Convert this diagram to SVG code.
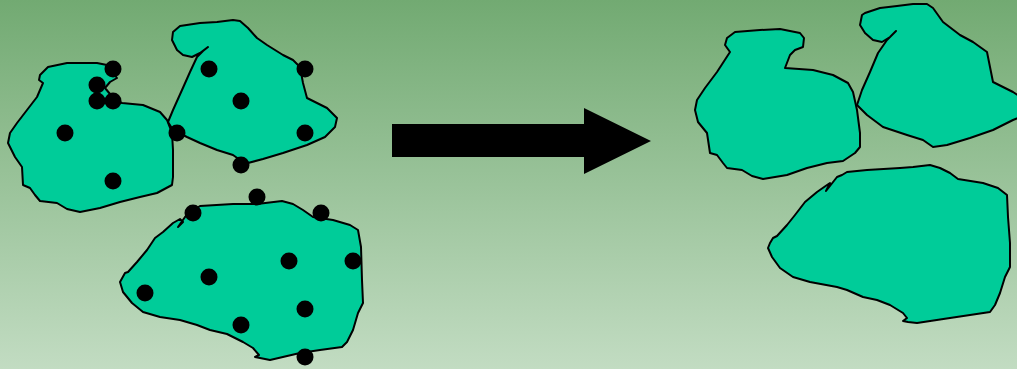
<svg xmlns="http://www.w3.org/2000/svg" width="1017" height="369" viewBox="0 0 1017 369">
<defs>
<linearGradient id="bg" x1="0" y1="0" x2="0" y2="1">
<stop offset="0" stop-color="#72aa72"/>
<stop offset="1" stop-color="#c2dcc2"/>
</linearGradient>
<style>
.blob{fill:#00cc99;stroke:#000;stroke-width:2;stroke-linejoin:round;stroke-linecap:round}
.dot{fill:#000}
</style>
</defs>
<rect width="1017" height="369" fill="url(#bg)"/>
<g id="before">
<g id="blobA">
<path class="blob" d="M43,83 L39,80 L40,75 L48,67 L67,63 L97,63 L107,65 L117,78 L110,82 L105,88 L115,100 L122,103 L143,105 L160,112 L167,120 L172,133 L173,150 L173,177 L172,185 L157,193 L140,197 L120,202 L100,208 L80,212 L67,209 L57,203 L40,201 L35,195 L30,188 L23,185 L22,167 L15,157 L8,143 L10,133 L17,123 L27,110 L37,97 Z"/>
<circle class="dot" cx="113" cy="69" r="8.5"/>
<circle class="dot" cx="97" cy="85" r="8.5"/>
<circle class="dot" cx="97" cy="101" r="8.5"/>
<circle class="dot" cx="113" cy="101" r="8.5"/>
<circle class="dot" cx="65" cy="133" r="8.5"/>
<circle class="dot" cx="113" cy="181" r="8.5"/>
</g>
<g id="blobB">
<path class="blob" d="M180,26 L200,23 L217,22 L233,20 L240,21 L248,28 L257,38 L267,45 L283,55 L293,60 L300,67 L303,83 L307,98 L327,108 L337,118 L335,127 L325,137 L307,145 L283,153 L263,159 L248,163 L240,160 L233,155 L217,150 L200,143 L187,137 L173,130 L168,122 L173,110 L182,90 L190,72 L197,57 L203,51 L208,47 L200,53 L192,57 L183,55 L177,50 L172,40 L173,32 Z"/>
<circle class="dot" cx="209" cy="69" r="8.5"/>
<circle class="dot" cx="305" cy="69" r="8.5"/>
<circle class="dot" cx="241" cy="101" r="8.5"/>
<circle class="dot" cx="177" cy="133" r="8.5"/>
<circle class="dot" cx="305" cy="133" r="8.5"/>
<circle class="dot" cx="241" cy="165" r="8.5"/>
</g>
<g id="blobC">
<path class="blob" d="M190,212 L200,206 L233,204 L257,204 L282,201 L293,204 L303,210 L313,217 L333,220 L350,225 L358,230 L361,247 L362,280 L363,303 L358,313 L353,330 L347,342 L342,347 L320,350 L300,353 L270,360 L260,358 L255,357 L259,355 L253,348 L243,342 L227,334 L210,330 L197,325 L180,320 L160,317 L143,312 L132,303 L123,292 L120,282 L125,273 L128,272 L137,262 L147,250 L155,238 L163,232 L173,223 L180,219 L183,222 L178,227 L185,217 Z"/>
<circle class="dot" cx="257" cy="197" r="8.5"/>
<circle class="dot" cx="193" cy="213" r="8.5"/>
<circle class="dot" cx="321" cy="213" r="8.5"/>
<circle class="dot" cx="289" cy="261" r="8.5"/>
<circle class="dot" cx="353" cy="261" r="8.5"/>
<circle class="dot" cx="209" cy="277" r="8.5"/>
<circle class="dot" cx="145" cy="293" r="8.5"/>
<circle class="dot" cx="305" cy="309" r="8.5"/>
<circle class="dot" cx="241" cy="325" r="8.5"/>
<circle class="dot" cx="305" cy="357" r="8.5"/>
</g>
</g>
<g id="arrow">
<path d="M392,124 L584,124 L584,108 L651,141 L584,174 L584,157 L392,157 Z" fill="#000"/>
</g>
<g id="after">
<g id="blobA2">
<path class="blob" d="M730,52 L725,45 L727,38 L735,32 L760,30 L780,29 L800,33 L804,38 L803,47 L795,50 L790,55 L785,68 L813,70 L833,75 L848,83 L853,92 L857,110 L860,133 L860,147 L855,153 L843,161 L827,163 L807,168 L787,175 L763,179 L752,176 L742,170 L727,168 L723,163 L717,155 L710,153 L707,133 L698,122 L695,110 L697,100 L705,88 L717,72 Z"/>
</g>
<g id="blobB2">
<path class="blob" d="M865,13 L880,8 L897,6 L913,4 L927,4 L933,8 L943,22 L960,35 L973,42 L987,52 L990,67 L993,82 L1013,92 L1025,100 L1025,115 L1013,120 L993,130 L970,138 L947,145 L933,147 L923,140 L907,135 L883,127 L867,115 L857,105 L862,90 L870,72 L878,53 L887,40 L896,31 L890,37 L882,42 L873,40 L865,33 L860,25 L862,15 Z"/>
</g>
<g id="blobC2">
<path class="blob" d="M842,175 L847,172 L867,170 L900,168 L913,167 L930,165 L940,168 L950,173 L958,179 L983,183 L998,188 L1007,195 L1008,217 L1010,243 L1010,267 L1005,277 L1000,293 L995,305 L990,312 L950,318 L917,323 L908,322 L903,321 L907,318 L903,313 L890,305 L877,300 L863,297 L847,290 L837,287 L810,282 L793,277 L780,268 L772,257 L768,248 L770,243 L773,238 L777,236 L787,225 L795,215 L805,202 L817,192 L827,185 L830,183 L826,191 L837,177 Z"/>
</g>
</g>
</svg>
